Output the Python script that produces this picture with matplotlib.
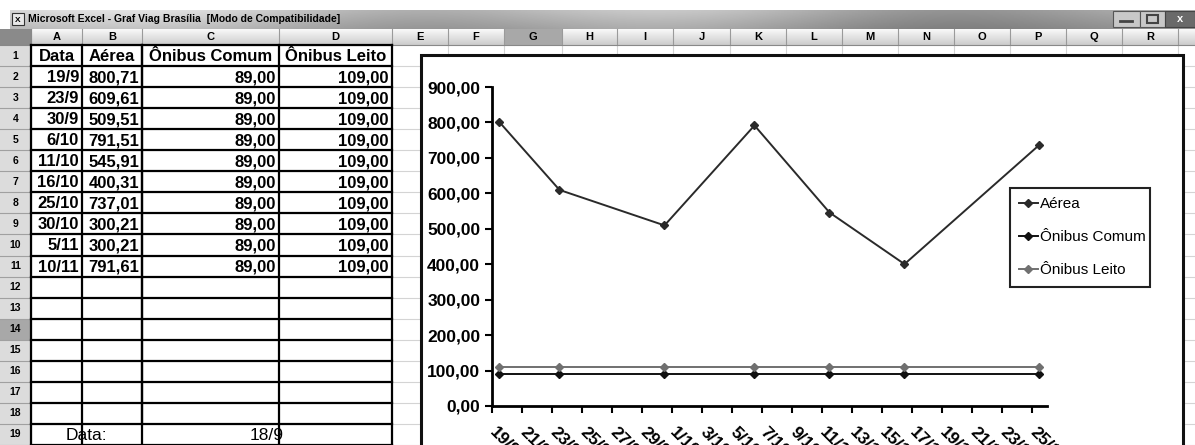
import numpy as np
import pandas as pd
import matplotlib
matplotlib.use("Agg")
import matplotlib.pyplot as plt
from matplotlib.patches import Rectangle
from matplotlib.transforms import ScaledTranslation

plt.rcParams['font.family'] = ['Liberation Sans', 'DejaVu Sans']

# dados da planilha
datas = ['19/9', '23/9', '30/9', '6/10', '11/10', '16/10', '25/10', '30/10', '5/11', '10/11']
aerea = [800.71, 609.61, 509.51, 791.51, 545.91, 400.31, 737.01, 300.21, 300.21, 791.61]
onibus_comum = [89.00, 89.00, 89.00, 89.00, 89.00, 89.00, 89.00, 89.00, 89.00, 89.00]
onibus_leito = [109.00, 109.00, 109.00, 109.00, 109.00, 109.00, 109.00, 109.00, 109.00, 109.00]
cabecalho = ['Data', 'Aérea', 'Ônibus Comum', 'Ônibus Leito']
data_ref = '18/9'
n_graf = 7  # o grafico so usa as linhas 2 a 8
ano = 2008

def fmt(v):
    return f"{v:.2f}".replace('.', ',')

W, H = 1195, 445
fig = plt.figure(figsize=(W / 100, H / 100), dpi=100)
bg = fig.add_axes([0, 0, 1, 1])
bg.set_xlim(0, W)
bg.set_ylim(H, 0)
bg.axis('off')

# barra de titulo
grad = np.linspace(0, 1, 400)
streak = 0.80 - 0.22 * grad + 0.07 * np.sin(grad * 14)
img = np.tile(streak, (20, 1))
img = img * np.linspace(1.05, 0.9, 20)[:, None]
bg.imshow(img, cmap='gray', vmin=0, vmax=1, extent=[10, W, 29, 10], aspect='auto', zorder=1)
bg.add_patch(Rectangle((12, 13), 12, 12, fc='#e8e8e8', ec='#333333', lw=0.8, zorder=2))
bg.text(15, 20, 'X', fontsize=6, fontweight='bold', va='center', zorder=3)
bg.text(28, 19.5, 'Microsoft Excel - Graf Viag Brasília  [Modo de Compatibilidade]',
        fontsize=7.5, fontweight='bold', va='center', zorder=3)
bg.add_patch(Rectangle((1113, 11), 27, 16, fc='#c8c8c8', ec='#555555', lw=0.8, zorder=2))
bg.add_patch(Rectangle((1140, 11), 25, 16, fc='#c8c8c8', ec='#555555', lw=0.8, zorder=2))
bg.add_patch(Rectangle((1165, 11), 30, 16, fc='#6a6a6a', ec='#444444', lw=0.8, zorder=2))
bg.plot([1120, 1132], [21, 21], color='#444444', lw=2, zorder=3)
bg.add_patch(Rectangle((1147, 15), 11, 8, fc='none', ec='#444444', lw=1.5, zorder=3))
bg.text(1180, 19, 'x', fontsize=8, fontweight='bold', color='white', ha='center', va='center', zorder=3)

# colunas e linhas
colx = [0, 31, 82, 142, 279, 392, 448, 504, 562, 617, 673, 730, 786, 842, 898, 954,
        1010, 1066, 1122, 1178, W]
letras = list('ABCDEFGHIJKLMNOPQR')
y0, rh = 45, (H - 45) / 19.0
rowy = [y0 + k * rh for k in range(20)]

hdr = np.tile(np.linspace(0.97, 0.80, 16)[:, None], (1, 2))
bg.imshow(hdr, cmap='gray', vmin=0, vmax=1, extent=[0, W, 45, 29], aspect='auto', zorder=1)
bg.add_patch(Rectangle((504, 29), 58, 16, fc='#a8a8a8', ec='none', zorder=1.5))
bg.add_patch(Rectangle((0, 29), 31, 16, fc='#8a8a8a', ec='none', zorder=1.5))
for i, L in enumerate(letras):
    bg.text((colx[i + 1] + colx[i + 2]) / 2, 37.5, L, fontsize=8, fontweight='bold',
            ha='center', va='center', zorder=3)
for x in colx[1:-1]:
    bg.plot([x, x], [29, 45], color='#9a9a9a', lw=0.8, zorder=2)
bg.plot([0, W], [45, 45], color='#888888', lw=0.8, zorder=2)

bg.add_patch(Rectangle((0, 45), 31, H - 45, fc='#dcdcdc', ec='none', zorder=1))
bg.add_patch(Rectangle((0, rowy[13]), 31, rh, fc='#a8a8a8', ec='none', zorder=1.5))
for k in range(19):
    bg.text(15.5, rowy[k] + rh / 2, str(k + 1), fontsize=7.5, fontweight='bold',
            ha='center', va='center', zorder=3)
    bg.plot([0, 31], [rowy[k + 1], rowy[k + 1]], color='#a0a0a0', lw=0.8, zorder=2)
bg.plot([31, 31], [29, H], color='#888888', lw=0.8, zorder=2)

# grade clara
for y in rowy[1:]:
    bg.plot([31, W], [y, y], color='#d4d4d4', lw=0.8, zorder=1.2)
for x in colx[2:-1]:
    bg.plot([x, x], [45, H], color='#d4d4d4', lw=0.8, zorder=1.2)

# bordas da tabela
tx = colx[1:6]
for k in range(20):
    bg.plot([tx[0], tx[-1]], [rowy[k], rowy[k]], color='black', lw=1.6, zorder=4)
bg.plot([tx[0], tx[0]], [45, H], color='black', lw=1.6, zorder=4)
bg.plot([tx[-1], tx[-1]], [45, H], color='black', lw=1.6, zorder=4)
for x in tx[1:-1]:
    ytop = rowy[18] if x == tx[2] else H
    bg.plot([x, x], [45, ytop], color='black', lw=1.6, zorder=4)
bg.plot([tx[2], tx[2]], [45, H], color='black', lw=1.6, zorder=4)

for j, c in enumerate(cabecalho):
    bg.text((tx[j] + tx[j + 1]) / 2, rowy[0] + rh / 2 + 1, c, fontsize=12, fontweight='bold',
            ha='center', va='center', zorder=5)
for k in range(len(datas)):
    yc = rowy[k + 1] + rh / 2 + 1
    vals = [datas[k], fmt(aerea[k]), fmt(onibus_comum[k]), fmt(onibus_leito[k])]
    for j, v in enumerate(vals):
        bg.text(tx[j + 1] - 3, yc, v, fontsize=12, fontweight='bold',
                ha='right', va='center', zorder=5)
bg.text((tx[0] + tx[2]) / 2, rowy[18] + rh / 2 + 1, 'Data:', fontsize=12.5,
        ha='center', va='center', zorder=5)
bg.text((tx[2] + tx[4]) / 2, rowy[18] + rh / 2 + 1, data_ref, fontsize=12.5,
        ha='center', va='center', zorder=5)

# area do grafico
bg.add_patch(Rectangle((421, 55), 1183 - 421, H - 50, fc='white', ec='#111111', lw=2.2, zorder=6))

# grafico
dts = pd.to_datetime([f"{d}/{ano}" for d in datas[:n_graf]], dayfirst=True)
pts = dts + pd.Timedelta(hours=12)
x0 = dts[0]
x1 = dts[-1] + pd.Timedelta(days=1)

ax = fig.add_axes([492 / W, (H - 406) / H, 555 / W, 319 / H], zorder=7)
ax.set_facecolor('none')
ax.plot(pts, aerea[:n_graf], color='#2a2a2a', lw=1.4, marker='D', ms=4, label='Aérea')
ax.plot(pts, onibus_comum[:n_graf], color='#111111', lw=1.4, marker='D', ms=4, label='Ônibus Comum')
ax.plot(pts, onibus_leito[:n_graf], color='#707070', lw=1.4, marker='D', ms=4, label='Ônibus Leito')
ax.set_xlim(x0, x1)
ax.set_ylim(0, 900)
ax.set_yticks(np.arange(0, 901, 100))
ax.set_yticklabels([fmt(v) for v in np.arange(0, 901, 100)], fontsize=12.5, fontweight='bold')

ticks = pd.date_range(x0, dts[-1], freq='2D')
ax.set_xticks(ticks)
ax.set_xticklabels([])
ax.set_xticks(ticks + pd.Timedelta(hours=12), minor=True)
ax.set_xticklabels([f"{d.day}/{d.month}" for d in ticks], minor=True,
                   fontsize=12.5, fontweight='bold')
ax.tick_params(axis='x', which='minor', length=0, pad=17)
ax.tick_params(axis='both', which='major', length=5, width=1.5, direction='out', color='black')
off = ScaledTranslation(-7 / 100, 0, fig.dpi_scale_trans)
for lab in ax.get_xticklabels(minor=True):
    lab.set_rotation(-45)
    lab.set_rotation_mode('anchor')
    lab.set_ha('left')
    lab.set_va('center')
    lab.set_transform(lab.get_transform() + off)
for s in ['top', 'right']:
    ax.spines[s].set_visible(False)
for s in ['left', 'bottom']:
    ax.spines[s].set_linewidth(2)
    ax.spines[s].set_color('black')

leg = ax.legend(loc='upper left', bbox_to_anchor=(1010 / W, 1 - 287 / H, 140 / W, 99 / H),
                bbox_transform=fig.transFigure, mode='expand', fontsize=11, frameon=True,
                fancybox=False, framealpha=1, edgecolor='#222222', handlelength=1.2,
                handletextpad=0.15, labelspacing=1.25, borderpad=0.6, borderaxespad=0)
leg.get_frame().set_linewidth(1.5)

fig.savefig('out.png', dpi=100)
